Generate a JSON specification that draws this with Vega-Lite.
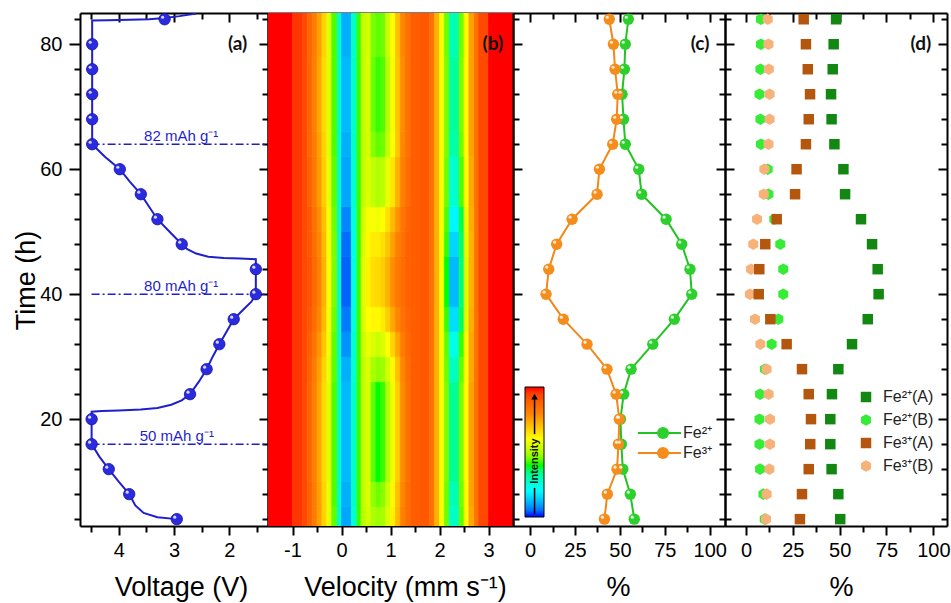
{
"$schema":"https://vega.github.io/schema/vega-lite/v6.json",
"autosize":{"type":"pad"},
"padding":{"left":12,"top":11,"right":2,"bottom":2},
"background":"white",
"spacing":0,
"bounds":"flush",
"resolve":{"scale":{"color":"independent","shape":"independent","stroke":"independent"},"legend":{"color":"independent","shape":"independent","stroke":"independent"}},
"config":{"font":"Liberation Sans","view":{"stroke":null},
 "axis":{"domainColor":"#000","domainWidth":2,"tickColor":"#000","tickWidth":2,"labelColor":"#000","labelFontSize":20,"labelFont":"Liberation Sans","titleFont":"Liberation Sans","titleFontSize":27,"titleFontWeight":"normal","titleColor":"#000","grid":false,"zindex":1}},
"datasets":{
"aline":[{"v":2.95,"t":4.0},{"v":3.3,"t":4.3},{"v":3.55,"t":5.0},{"v":3.7,"t":6.2},{"v":3.81,"t":8.0},{"v":4.0,"t":10.0},{"v":4.18,"t":12.0},{"v":4.35,"t":14.0},{"v":4.49,"t":16.0},{"v":4.49,"t":21.2},{"v":4.3,"t":21.3},{"v":4.0,"t":21.4},{"v":3.6,"t":21.55},{"v":3.3,"t":21.8},{"v":3.05,"t":22.3},{"v":2.86,"t":23.0},{"v":2.71,"t":24.0},{"v":2.55,"t":26.0},{"v":2.41,"t":28.0},{"v":2.3,"t":30.0},{"v":2.18,"t":32.0},{"v":2.05,"t":34.0},{"v":1.92,"t":36.0},{"v":1.74,"t":37.6},{"v":1.6,"t":38.8},{"v":1.52,"t":40.0},{"v":1.52,"t":45.6},{"v":1.8,"t":45.7},{"v":2.1,"t":45.8},{"v":2.38,"t":46.0},{"v":2.6,"t":46.5},{"v":2.76,"t":47.2},{"v":2.86,"t":48.0},{"v":3.08,"t":50.0},{"v":3.3,"t":52.0},{"v":3.45,"t":54.0},{"v":3.6,"t":56.0},{"v":3.8,"t":58.0},{"v":3.98,"t":60.0},{"v":4.25,"t":62.0},{"v":4.48,"t":64.0},{"v":4.48,"t":83.8},{"v":4.2,"t":83.85},{"v":3.8,"t":83.9},{"v":3.45,"t":84.0},{"v":3.17,"t":84.2},{"v":2.9,"t":84.5},{"v":2.6,"t":84.9}],
"apts":[{"t":4,"v":2.95},{"t":8,"v":3.81},{"t":12,"v":4.18},{"t":16,"v":4.49},{"t":20,"v":4.49},{"t":24,"v":2.71},{"t":28,"v":2.41},{"t":32,"v":2.18},{"t":36,"v":1.92},{"t":40,"v":1.52},{"t":44,"v":1.52},{"t":48,"v":2.86},{"t":52,"v":3.3},{"t":56,"v":3.6},{"t":60,"v":3.98},{"t":64,"v":4.48},{"t":68,"v":4.48},{"t":72,"v":4.48},{"t":76,"v":4.48},{"t":80,"v":4.48},{"t":84,"v":3.17}],
"arule":[{"t":16,"v1":4.49,"v2":1.3,"lv":2.95,"s":"50 mAh g⁻¹"},{"t":40,"v1":4.49,"v2":1.3,"lv":2.87,"s":"80 mAh g⁻¹"},{"t":64,"v1":4.49,"v2":1.3,"lv":2.87,"s":"82 mAh g⁻¹"}],
"heat":[
{"a":-1.5,"b":-1.0,"s":2.9,"e":85,"z":1.0},{"a":-1.0,"b":-0.8,"s":2.9,"e":85,"z":0.96},{"a":-0.8,"b":-0.7,"s":2.9,"e":85,"z":0.93},{"a":-0.1,"b":0.0,"s":2.9,"e":85,"z":0.28},{"a":0.3,"b":0.4,"s":2.9,"e":85,"z":0.41},{"a":1.4,"b":1.6,"s":2.9,"e":85,"z":0.89},{"a":1.6,"b":1.8,"s":2.9,"e":85,"z":0.9},{"a":1.8,"b":1.9,"s":2.9,"e":85,"z":0.84},{"a":1.9,"b":2.0,"s":2.9,"e":85,"z":0.72},{"a":2.0,"b":2.1,"s":2.9,"e":85,"z":0.59},{"a":2.7,"b":2.8,"s":2.9,"e":85,"z":0.84},{"a":2.8,"b":3.0,"s":2.9,"e":85,"z":0.93},{"a":3.0,"b":3.5,"s":2.9,"e":85,"z":1.0},
{"a":-0.7,"b":-0.6,"s":2.9,"e":6,"z":0.88},{"a":-0.6,"b":-0.5,"s":2.9,"e":6,"z":0.81},{"a":-0.5,"b":-0.4,"s":2.9,"e":6,"z":0.75},{"a":-0.4,"b":-0.3,"s":2.9,"e":6,"z":0.67},{"a":-0.3,"b":-0.2,"s":2.9,"e":6,"z":0.57},{"a":-0.2,"b":-0.1,"s":2.9,"e":6,"z":0.43},{"a":0.0,"b":0.2,"s":2.9,"e":6,"z":0.10},{"a":0.2,"b":0.3,"s":2.9,"e":6,"z":0.27},{"a":0.4,"b":0.5,"s":2.9,"e":6,"z":0.51},{"a":0.5,"b":0.6,"s":2.9,"e":6,"z":0.54},{"a":0.6,"b":0.7,"s":2.9,"e":6,"z":0.50},{"a":0.7,"b":0.8,"s":2.9,"e":6,"z":0.48},{"a":0.8,"b":0.9,"s":2.9,"e":6,"z":0.49},{"a":0.9,"b":1.0,"s":2.9,"e":6,"z":0.55},{"a":1.0,"b":1.1,"s":2.9,"e":6,"z":0.62},{"a":1.1,"b":1.2,"s":2.9,"e":6,"z":0.71},{"a":1.2,"b":1.3,"s":2.9,"e":6,"z":0.80},{"a":1.3,"b":1.4,"s":2.9,"e":6,"z":0.85},{"a":2.1,"b":2.2,"s":2.9,"e":6,"z":0.44},{"a":2.2,"b":2.4,"s":2.9,"e":6,"z":0.28},{"a":2.4,"b":2.5,"s":2.9,"e":6,"z":0.43},{"a":2.5,"b":2.6,"s":2.9,"e":6,"z":0.59},{"a":2.6,"b":2.7,"s":2.9,"e":6,"z":0.74},
{"a":-0.7,"b":-0.6,"s":6,"e":10,"z":0.88},{"a":-0.6,"b":-0.5,"s":6,"e":10,"z":0.81},{"a":-0.5,"b":-0.4,"s":6,"e":10,"z":0.75},{"a":-0.4,"b":-0.3,"s":6,"e":10,"z":0.67},{"a":-0.3,"b":-0.2,"s":6,"e":10,"z":0.57},{"a":-0.2,"b":-0.1,"s":6,"e":10,"z":0.42},{"a":0.0,"b":0.2,"s":6,"e":10,"z":0.11},{"a":0.2,"b":0.3,"s":6,"e":10,"z":0.28},{"a":0.4,"b":0.5,"s":6,"e":10,"z":0.52},{"a":0.5,"b":0.6,"s":6,"e":10,"z":0.55},{"a":0.6,"b":0.7,"s":6,"e":10,"z":0.47},{"a":0.7,"b":0.8,"s":6,"e":10,"z":0.44},{"a":0.8,"b":0.9,"s":6,"e":10,"z":0.46},{"a":0.9,"b":1.0,"s":6,"e":10,"z":0.53},{"a":1.0,"b":1.1,"s":6,"e":10,"z":0.61},{"a":1.1,"b":1.2,"s":6,"e":10,"z":0.70},{"a":1.2,"b":1.3,"s":6,"e":10,"z":0.79},{"a":1.3,"b":1.4,"s":6,"e":10,"z":0.85},{"a":2.1,"b":2.2,"s":6,"e":10,"z":0.44},{"a":2.2,"b":2.4,"s":6,"e":10,"z":0.30},{"a":2.4,"b":2.5,"s":6,"e":10,"z":0.44},{"a":2.5,"b":2.6,"s":6,"e":10,"z":0.59},{"a":2.6,"b":2.7,"s":6,"e":10,"z":0.75},
{"a":-0.7,"b":-0.6,"s":10,"e":26,"z":0.87},{"a":-0.6,"b":-0.5,"s":10,"e":26,"z":0.80},{"a":-0.5,"b":-0.4,"s":10,"e":26,"z":0.74},{"a":-0.4,"b":-0.3,"s":10,"e":26,"z":0.66},{"a":-0.3,"b":-0.2,"s":10,"e":26,"z":0.56},{"a":-0.2,"b":-0.1,"s":10,"e":26,"z":0.42},{"a":0.0,"b":0.2,"s":10,"e":26,"z":0.12},{"a":0.2,"b":0.3,"s":10,"e":26,"z":0.28},{"a":0.4,"b":0.5,"s":10,"e":26,"z":0.52},{"a":0.5,"b":0.6,"s":10,"e":26,"z":0.55},{"a":0.6,"b":0.7,"s":10,"e":26,"z":0.43},{"a":0.7,"b":0.8,"s":10,"e":26,"z":0.40},{"a":0.8,"b":0.9,"s":10,"e":26,"z":0.41},{"a":0.9,"b":1.0,"s":10,"e":26,"z":0.50},{"a":1.0,"b":1.1,"s":10,"e":26,"z":0.58},{"a":1.1,"b":1.2,"s":10,"e":26,"z":0.68},{"a":1.2,"b":1.3,"s":10,"e":26,"z":0.78},{"a":1.3,"b":1.4,"s":10,"e":26,"z":0.84},{"a":2.1,"b":2.2,"s":10,"e":26,"z":0.45},{"a":2.2,"b":2.4,"s":10,"e":26,"z":0.33},{"a":2.4,"b":2.5,"s":10,"e":26,"z":0.45},{"a":2.5,"b":2.6,"s":10,"e":26,"z":0.60},{"a":2.6,"b":2.7,"s":10,"e":26,"z":0.75},
{"a":-0.7,"b":-0.6,"s":26,"e":30,"z":0.88},{"a":-0.6,"b":-0.5,"s":26,"e":30,"z":0.81},{"a":-0.5,"b":-0.4,"s":26,"e":30,"z":0.75},{"a":-0.4,"b":-0.3,"s":26,"e":30,"z":0.67},{"a":-0.3,"b":-0.2,"s":26,"e":30,"z":0.57},{"a":-0.2,"b":-0.1,"s":26,"e":30,"z":0.43},{"a":0.0,"b":0.2,"s":26,"e":30,"z":0.11},{"a":0.2,"b":0.3,"s":26,"e":30,"z":0.27},{"a":0.4,"b":0.5,"s":26,"e":30,"z":0.52},{"a":0.5,"b":0.6,"s":26,"e":30,"z":0.55},{"a":0.6,"b":0.7,"s":26,"e":30,"z":0.49},{"a":0.7,"b":0.8,"s":26,"e":30,"z":0.47},{"a":0.8,"b":0.9,"s":26,"e":30,"z":0.48},{"a":0.9,"b":1.0,"s":26,"e":30,"z":0.54},{"a":1.0,"b":1.1,"s":26,"e":30,"z":0.61},{"a":1.1,"b":1.2,"s":26,"e":30,"z":0.70},{"a":1.2,"b":1.3,"s":26,"e":30,"z":0.79},{"a":1.3,"b":1.4,"s":26,"e":30,"z":0.85},{"a":2.1,"b":2.2,"s":26,"e":30,"z":0.44},{"a":2.2,"b":2.4,"s":26,"e":30,"z":0.29},{"a":2.4,"b":2.5,"s":26,"e":30,"z":0.43},{"a":2.5,"b":2.6,"s":26,"e":30,"z":0.59},{"a":2.6,"b":2.7,"s":26,"e":30,"z":0.74},
{"a":-0.7,"b":-0.6,"s":30,"e":34,"z":0.89},{"a":-0.6,"b":-0.5,"s":30,"e":34,"z":0.83},{"a":-0.5,"b":-0.4,"s":30,"e":34,"z":0.77},{"a":-0.4,"b":-0.3,"s":30,"e":34,"z":0.69},{"a":-0.3,"b":-0.2,"s":30,"e":34,"z":0.58},{"a":-0.2,"b":-0.1,"s":30,"e":34,"z":0.43},{"a":0.0,"b":0.2,"s":30,"e":34,"z":0.08},{"a":0.2,"b":0.3,"s":30,"e":34,"z":0.27},{"a":0.4,"b":0.5,"s":30,"e":34,"z":0.53},{"a":0.5,"b":0.6,"s":30,"e":34,"z":0.57},{"a":0.6,"b":0.7,"s":30,"e":34,"z":0.55},{"a":0.7,"b":0.8,"s":30,"e":34,"z":0.53},{"a":0.8,"b":0.9,"s":30,"e":34,"z":0.55},{"a":0.9,"b":1.0,"s":30,"e":34,"z":0.60},{"a":1.0,"b":1.1,"s":30,"e":34,"z":0.67},{"a":1.1,"b":1.2,"s":30,"e":34,"z":0.74},{"a":1.2,"b":1.3,"s":30,"e":34,"z":0.81},{"a":1.3,"b":1.4,"s":30,"e":34,"z":0.86},{"a":2.1,"b":2.2,"s":30,"e":34,"z":0.43},{"a":2.2,"b":2.4,"s":30,"e":34,"z":0.24},{"a":2.4,"b":2.5,"s":30,"e":34,"z":0.41},{"a":2.5,"b":2.6,"s":30,"e":34,"z":0.58},{"a":2.6,"b":2.7,"s":30,"e":34,"z":0.74},
{"a":-0.7,"b":-0.6,"s":34,"e":38,"z":0.90},{"a":-0.6,"b":-0.5,"s":34,"e":38,"z":0.85},{"a":-0.5,"b":-0.4,"s":34,"e":38,"z":0.79},{"a":-0.4,"b":-0.3,"s":34,"e":38,"z":0.71},{"a":-0.3,"b":-0.2,"s":34,"e":38,"z":0.59},{"a":-0.2,"b":-0.1,"s":34,"e":38,"z":0.44},{"a":0.0,"b":0.2,"s":34,"e":38,"z":0.06},{"a":0.2,"b":0.3,"s":34,"e":38,"z":0.26},{"a":0.4,"b":0.5,"s":34,"e":38,"z":0.55},{"a":0.5,"b":0.6,"s":34,"e":38,"z":0.60},{"a":0.6,"b":0.7,"s":34,"e":38,"z":0.61},{"a":0.7,"b":0.8,"s":34,"e":38,"z":0.61},{"a":0.8,"b":0.9,"s":34,"e":38,"z":0.63},{"a":0.9,"b":1.0,"s":34,"e":38,"z":0.68},{"a":1.0,"b":1.1,"s":34,"e":38,"z":0.74},{"a":1.1,"b":1.2,"s":34,"e":38,"z":0.79},{"a":1.2,"b":1.3,"s":34,"e":38,"z":0.84},{"a":1.3,"b":1.4,"s":34,"e":38,"z":0.87},{"a":2.1,"b":2.2,"s":34,"e":38,"z":0.41},{"a":2.2,"b":2.4,"s":34,"e":38,"z":0.16},{"a":2.4,"b":2.5,"s":34,"e":38,"z":0.37},{"a":2.5,"b":2.6,"s":34,"e":38,"z":0.56},{"a":2.6,"b":2.7,"s":34,"e":38,"z":0.73},
{"a":-0.7,"b":-0.6,"s":38,"e":46,"z":0.91},{"a":-0.6,"b":-0.5,"s":38,"e":46,"z":0.86},{"a":-0.5,"b":-0.4,"s":38,"e":46,"z":0.80},{"a":-0.4,"b":-0.3,"s":38,"e":46,"z":0.72},{"a":-0.3,"b":-0.2,"s":38,"e":46,"z":0.60},{"a":-0.2,"b":-0.1,"s":38,"e":46,"z":0.45},{"a":0.0,"b":0.2,"s":38,"e":46,"z":0.04},{"a":0.2,"b":0.3,"s":38,"e":46,"z":0.25},{"a":0.4,"b":0.5,"s":38,"e":46,"z":0.56},{"a":0.5,"b":0.6,"s":38,"e":46,"z":0.62},{"a":0.6,"b":0.7,"s":38,"e":46,"z":0.65},{"a":0.7,"b":0.8,"s":38,"e":46,"z":0.66},{"a":0.8,"b":0.9,"s":38,"e":46,"z":0.68},{"a":0.9,"b":1.0,"s":38,"e":46,"z":0.72},{"a":1.0,"b":1.1,"s":38,"e":46,"z":0.78},{"a":1.1,"b":1.2,"s":38,"e":46,"z":0.82},{"a":1.2,"b":1.3,"s":38,"e":46,"z":0.85},{"a":1.3,"b":1.4,"s":38,"e":46,"z":0.88},{"a":2.1,"b":2.2,"s":38,"e":46,"z":0.40},{"a":2.2,"b":2.4,"s":38,"e":46,"z":0.12},{"a":2.4,"b":2.5,"s":38,"e":46,"z":0.35},{"a":2.5,"b":2.6,"s":38,"e":46,"z":0.55},{"a":2.6,"b":2.7,"s":38,"e":46,"z":0.72},
{"a":-0.7,"b":-0.6,"s":46,"e":50,"z":0.90},{"a":-0.6,"b":-0.5,"s":46,"e":50,"z":0.85},{"a":-0.5,"b":-0.4,"s":46,"e":50,"z":0.79},{"a":-0.4,"b":-0.3,"s":46,"e":50,"z":0.71},{"a":-0.3,"b":-0.2,"s":46,"e":50,"z":0.59},{"a":-0.2,"b":-0.1,"s":46,"e":50,"z":0.45},{"a":0.0,"b":0.2,"s":46,"e":50,"z":0.05},{"a":0.2,"b":0.3,"s":46,"e":50,"z":0.25},{"a":0.4,"b":0.5,"s":46,"e":50,"z":0.55},{"a":0.5,"b":0.6,"s":46,"e":50,"z":0.61},{"a":0.6,"b":0.7,"s":46,"e":50,"z":0.63},{"a":0.7,"b":0.8,"s":46,"e":50,"z":0.63},{"a":0.8,"b":0.9,"s":46,"e":50,"z":0.65},{"a":0.9,"b":1.0,"s":46,"e":50,"z":0.69},{"a":1.0,"b":1.1,"s":46,"e":50,"z":0.75},{"a":1.1,"b":1.2,"s":46,"e":50,"z":0.80},{"a":1.2,"b":1.3,"s":46,"e":50,"z":0.84},{"a":1.3,"b":1.4,"s":46,"e":50,"z":0.88},{"a":2.1,"b":2.2,"s":46,"e":50,"z":0.41},{"a":2.2,"b":2.4,"s":46,"e":50,"z":0.15},{"a":2.4,"b":2.5,"s":46,"e":50,"z":0.36},{"a":2.5,"b":2.6,"s":46,"e":50,"z":0.56},{"a":2.6,"b":2.7,"s":46,"e":50,"z":0.72},
{"a":-0.7,"b":-0.6,"s":50,"e":54,"z":0.90},{"a":-0.6,"b":-0.5,"s":50,"e":54,"z":0.84},{"a":-0.5,"b":-0.4,"s":50,"e":54,"z":0.78},{"a":-0.4,"b":-0.3,"s":50,"e":54,"z":0.70},{"a":-0.3,"b":-0.2,"s":50,"e":54,"z":0.59},{"a":-0.2,"b":-0.1,"s":50,"e":54,"z":0.44},{"a":0.0,"b":0.2,"s":50,"e":54,"z":0.07},{"a":0.2,"b":0.3,"s":50,"e":54,"z":0.26},{"a":0.4,"b":0.5,"s":50,"e":54,"z":0.54},{"a":0.5,"b":0.6,"s":50,"e":54,"z":0.59},{"a":0.6,"b":0.7,"s":50,"e":54,"z":0.59},{"a":0.7,"b":0.8,"s":50,"e":54,"z":0.58},{"a":0.8,"b":0.9,"s":50,"e":54,"z":0.60},{"a":0.9,"b":1.0,"s":50,"e":54,"z":0.65},{"a":1.0,"b":1.1,"s":50,"e":54,"z":0.71},{"a":1.1,"b":1.2,"s":50,"e":54,"z":0.77},{"a":1.2,"b":1.3,"s":50,"e":54,"z":0.83},{"a":1.3,"b":1.4,"s":50,"e":54,"z":0.87},{"a":2.1,"b":2.2,"s":50,"e":54,"z":0.42},{"a":2.2,"b":2.4,"s":50,"e":54,"z":0.19},{"a":2.4,"b":2.5,"s":50,"e":54,"z":0.38},{"a":2.5,"b":2.6,"s":50,"e":54,"z":0.57},{"a":2.6,"b":2.7,"s":50,"e":54,"z":0.73},
{"a":-0.7,"b":-0.6,"s":54,"e":62,"z":0.88},{"a":-0.6,"b":-0.5,"s":54,"e":62,"z":0.82},{"a":-0.5,"b":-0.4,"s":54,"e":62,"z":0.76},{"a":-0.4,"b":-0.3,"s":54,"e":62,"z":0.68},{"a":-0.3,"b":-0.2,"s":54,"e":62,"z":0.57},{"a":-0.2,"b":-0.1,"s":54,"e":62,"z":0.43},{"a":0.0,"b":0.2,"s":54,"e":62,"z":0.10},{"a":0.2,"b":0.3,"s":54,"e":62,"z":0.27},{"a":0.4,"b":0.5,"s":54,"e":62,"z":0.52},{"a":0.5,"b":0.6,"s":54,"e":62,"z":0.55},{"a":0.6,"b":0.7,"s":54,"e":62,"z":0.52},{"a":0.7,"b":0.8,"s":54,"e":62,"z":0.50},{"a":0.8,"b":0.9,"s":54,"e":62,"z":0.51},{"a":0.9,"b":1.0,"s":54,"e":62,"z":0.57},{"a":1.0,"b":1.1,"s":54,"e":62,"z":0.64},{"a":1.1,"b":1.2,"s":54,"e":62,"z":0.72},{"a":1.2,"b":1.3,"s":54,"e":62,"z":0.80},{"a":1.3,"b":1.4,"s":54,"e":62,"z":0.85},{"a":2.1,"b":2.2,"s":54,"e":62,"z":0.44},{"a":2.2,"b":2.4,"s":54,"e":62,"z":0.27},{"a":2.4,"b":2.5,"s":54,"e":62,"z":0.42},{"a":2.5,"b":2.6,"s":54,"e":62,"z":0.59},{"a":2.6,"b":2.7,"s":54,"e":62,"z":0.74},
{"a":-0.7,"b":-0.6,"s":62,"e":66,"z":0.87},{"a":-0.6,"b":-0.5,"s":62,"e":66,"z":0.81},{"a":-0.5,"b":-0.4,"s":62,"e":66,"z":0.75},{"a":-0.4,"b":-0.3,"s":62,"e":66,"z":0.67},{"a":-0.3,"b":-0.2,"s":62,"e":66,"z":0.56},{"a":-0.2,"b":-0.1,"s":62,"e":66,"z":0.42},{"a":0.0,"b":0.2,"s":62,"e":66,"z":0.11},{"a":0.2,"b":0.3,"s":62,"e":66,"z":0.28},{"a":0.4,"b":0.5,"s":62,"e":66,"z":0.52},{"a":0.5,"b":0.6,"s":62,"e":66,"z":0.54},{"a":0.6,"b":0.7,"s":62,"e":66,"z":0.46},{"a":0.7,"b":0.8,"s":62,"e":66,"z":0.43},{"a":0.8,"b":0.9,"s":62,"e":66,"z":0.44},{"a":0.9,"b":1.0,"s":62,"e":66,"z":0.52},{"a":1.0,"b":1.1,"s":62,"e":66,"z":0.60},{"a":1.1,"b":1.2,"s":62,"e":66,"z":0.69},{"a":1.2,"b":1.3,"s":62,"e":66,"z":0.79},{"a":1.3,"b":1.4,"s":62,"e":66,"z":0.84},{"a":2.1,"b":2.2,"s":62,"e":66,"z":0.45},{"a":2.2,"b":2.4,"s":62,"e":66,"z":0.31},{"a":2.4,"b":2.5,"s":62,"e":66,"z":0.44},{"a":2.5,"b":2.6,"s":62,"e":66,"z":0.60},{"a":2.6,"b":2.7,"s":62,"e":66,"z":0.75},
{"a":-0.7,"b":-0.6,"s":66,"e":78,"z":0.87},{"a":-0.6,"b":-0.5,"s":66,"e":78,"z":0.80},{"a":-0.5,"b":-0.4,"s":66,"e":78,"z":0.74},{"a":-0.4,"b":-0.3,"s":66,"e":78,"z":0.66},{"a":-0.3,"b":-0.2,"s":66,"e":78,"z":0.56},{"a":-0.2,"b":-0.1,"s":66,"e":78,"z":0.42},{"a":0.0,"b":0.2,"s":66,"e":78,"z":0.12},{"a":0.2,"b":0.3,"s":66,"e":78,"z":0.28},{"a":0.4,"b":0.5,"s":66,"e":78,"z":0.52},{"a":0.5,"b":0.6,"s":66,"e":78,"z":0.55},{"a":0.6,"b":0.7,"s":66,"e":78,"z":0.44},{"a":0.7,"b":0.8,"s":66,"e":78,"z":0.41},{"a":0.8,"b":0.9,"s":66,"e":78,"z":0.42},{"a":0.9,"b":1.0,"s":66,"e":78,"z":0.51},{"a":1.0,"b":1.1,"s":66,"e":78,"z":0.59},{"a":1.1,"b":1.2,"s":66,"e":78,"z":0.69},{"a":1.2,"b":1.3,"s":66,"e":78,"z":0.78},{"a":1.3,"b":1.4,"s":66,"e":78,"z":0.84},{"a":2.1,"b":2.2,"s":66,"e":78,"z":0.45},{"a":2.2,"b":2.4,"s":66,"e":78,"z":0.32},{"a":2.4,"b":2.5,"s":66,"e":78,"z":0.45},{"a":2.5,"b":2.6,"s":66,"e":78,"z":0.60},{"a":2.6,"b":2.7,"s":66,"e":78,"z":0.75},
{"a":-0.7,"b":-0.6,"s":78,"e":85,"z":0.87},{"a":-0.6,"b":-0.5,"s":78,"e":85,"z":0.81},{"a":-0.5,"b":-0.4,"s":78,"e":85,"z":0.75},{"a":-0.4,"b":-0.3,"s":78,"e":85,"z":0.67},{"a":-0.3,"b":-0.2,"s":78,"e":85,"z":0.56},{"a":-0.2,"b":-0.1,"s":78,"e":85,"z":0.42},{"a":0.0,"b":0.2,"s":78,"e":85,"z":0.11},{"a":0.2,"b":0.3,"s":78,"e":85,"z":0.28},{"a":0.4,"b":0.5,"s":78,"e":85,"z":0.52},{"a":0.5,"b":0.6,"s":78,"e":85,"z":0.54},{"a":0.6,"b":0.7,"s":78,"e":85,"z":0.45},{"a":0.7,"b":0.8,"s":78,"e":85,"z":0.43},{"a":0.8,"b":0.9,"s":78,"e":85,"z":0.44},{"a":0.9,"b":1.0,"s":78,"e":85,"z":0.53},{"a":1.0,"b":1.1,"s":78,"e":85,"z":0.60},{"a":1.1,"b":1.2,"s":78,"e":85,"z":0.70},{"a":1.2,"b":1.3,"s":78,"e":85,"z":0.79},{"a":1.3,"b":1.4,"s":78,"e":85,"z":0.84},{"a":2.1,"b":2.2,"s":78,"e":85,"z":0.44},{"a":2.2,"b":2.4,"s":78,"e":85,"z":0.30},{"a":2.4,"b":2.5,"s":78,"e":85,"z":0.44},{"a":2.5,"b":2.6,"s":78,"e":85,"z":0.59},{"a":2.6,"b":2.7,"s":78,"e":85,"z":0.75}
],
"cpts":[{"t":4,"s":"Fe²⁺","p":58.0},{"t":8,"s":"Fe²⁺","p":55.8},{"t":12,"s":"Fe²⁺","p":51.6},{"t":16,"s":"Fe²⁺","p":50.8},{"t":20,"s":"Fe²⁺","p":50.3},{"t":24,"s":"Fe²⁺","p":52.1},{"t":28,"s":"Fe²⁺","p":56.2},{"t":32,"s":"Fe²⁺","p":68.3},{"t":36,"s":"Fe²⁺","p":80.3},{"t":40,"s":"Fe²⁺","p":90.0},{"t":44,"s":"Fe²⁺","p":89.0},{"t":48,"s":"Fe²⁺","p":84.4},{"t":52,"s":"Fe²⁺","p":75.7},{"t":56,"s":"Fe²⁺","p":62.1},{"t":60,"s":"Fe²⁺","p":60.5},{"t":64,"s":"Fe²⁺","p":53.0},{"t":68,"s":"Fe²⁺","p":52.0},{"t":72,"s":"Fe²⁺","p":51.2},{"t":76,"s":"Fe²⁺","p":52.5},{"t":80,"s":"Fe²⁺","p":53.0},{"t":84,"s":"Fe²⁺","p":54.7},
{"t":4,"s":"Fe³⁺","p":41.4},{"t":8,"s":"Fe³⁺","p":43.0},{"t":12,"s":"Fe³⁺","p":48.4},{"t":16,"s":"Fe³⁺","p":49.2},{"t":20,"s":"Fe³⁺","p":49.7},{"t":24,"s":"Fe³⁺","p":47.9},{"t":28,"s":"Fe³⁺","p":42.8},{"t":32,"s":"Fe³⁺","p":31.7},{"t":36,"s":"Fe³⁺","p":18.5},{"t":40,"s":"Fe³⁺","p":8.9},{"t":44,"s":"Fe³⁺","p":10.4},{"t":48,"s":"Fe³⁺","p":14.8},{"t":52,"s":"Fe³⁺","p":23.4},{"t":56,"s":"Fe³⁺","p":37.3},{"t":60,"s":"Fe³⁺","p":38.6},{"t":64,"s":"Fe³⁺","p":46.0},{"t":68,"s":"Fe³⁺","p":48.2},{"t":72,"s":"Fe³⁺","p":48.8},{"t":76,"s":"Fe³⁺","p":47.3},{"t":80,"s":"Fe³⁺","p":46.4},{"t":84,"s":"Fe³⁺","p":44.1}],
"dpts":[{"t":4,"g":"Fe²⁺(B)","p":10.0},{"t":8,"g":"Fe²⁺(B)","p":9.3},{"t":12,"g":"Fe²⁺(B)","p":7.5},{"t":16,"g":"Fe²⁺(B)","p":7.2},{"t":20,"g":"Fe²⁺(B)","p":7.2},{"t":24,"g":"Fe²⁺(B)","p":7.5},{"t":28,"g":"Fe²⁺(B)","p":10.1},{"t":32,"g":"Fe²⁺(B)","p":13.7},{"t":36,"g":"Fe²⁺(B)","p":17.3},{"t":40,"g":"Fe²⁺(B)","p":19.9},{"t":44,"g":"Fe²⁺(B)","p":19.9},{"t":48,"g":"Fe²⁺(B)","p":18.3},{"t":52,"g":"Fe²⁺(B)","p":15.1},{"t":56,"g":"Fe²⁺(B)","p":12.0},{"t":60,"g":"Fe²⁺(B)","p":11.6},{"t":64,"g":"Fe²⁺(B)","p":8.0},{"t":68,"g":"Fe²⁺(B)","p":7.7},{"t":72,"g":"Fe²⁺(B)","p":7.2},{"t":76,"g":"Fe²⁺(B)","p":7.7},{"t":80,"g":"Fe²⁺(B)","p":8.0},{"t":84,"g":"Fe²⁺(B)","p":8.0},
{"t":4,"g":"Fe³⁺(B)","p":10.7},{"t":8,"g":"Fe³⁺(B)","p":11.0},{"t":12,"g":"Fe³⁺(B)","p":12.5},{"t":16,"g":"Fe³⁺(B)","p":12.8},{"t":20,"g":"Fe³⁺(B)","p":12.8},{"t":24,"g":"Fe³⁺(B)","p":12.1},{"t":28,"g":"Fe³⁺(B)","p":11.0},{"t":32,"g":"Fe³⁺(B)","p":7.7},{"t":36,"g":"Fe³⁺(B)","p":4.8},{"t":40,"g":"Fe³⁺(B)","p":2.1},{"t":44,"g":"Fe³⁺(B)","p":2.7},{"t":48,"g":"Fe³⁺(B)","p":3.9},{"t":52,"g":"Fe³⁺(B)","p":5.9},{"t":56,"g":"Fe³⁺(B)","p":9.5},{"t":60,"g":"Fe³⁺(B)","p":9.8},{"t":64,"g":"Fe³⁺(B)","p":12.0},{"t":68,"g":"Fe³⁺(B)","p":12.6},{"t":72,"g":"Fe³⁺(B)","p":12.6},{"t":76,"g":"Fe³⁺(B)","p":12.2},{"t":80,"g":"Fe³⁺(B)","p":12.0},{"t":84,"g":"Fe³⁺(B)","p":11.6},
{"t":4,"g":"Fe³⁺(A)","p":28.8},{"t":8,"g":"Fe³⁺(A)","p":29.9},{"t":12,"g":"Fe³⁺(A)","p":33.5},{"t":16,"g":"Fe³⁺(A)","p":34.3},{"t":20,"g":"Fe³⁺(A)","p":34.7},{"t":24,"g":"Fe³⁺(A)","p":33.5},{"t":28,"g":"Fe³⁺(A)","p":29.9},{"t":32,"g":"Fe³⁺(A)","p":21.7},{"t":36,"g":"Fe³⁺(A)","p":13.0},{"t":40,"g":"Fe³⁺(A)","p":6.8},{"t":44,"g":"Fe³⁺(A)","p":7.1},{"t":48,"g":"Fe³⁺(A)","p":10.3},{"t":52,"g":"Fe³⁺(A)","p":16.4},{"t":56,"g":"Fe³⁺(A)","p":26.2},{"t":60,"g":"Fe³⁺(A)","p":27.0},{"t":64,"g":"Fe³⁺(A)","p":32.0},{"t":68,"g":"Fe³⁺(A)","p":33.5},{"t":72,"g":"Fe³⁺(A)","p":34.2},{"t":76,"g":"Fe³⁺(A)","p":33.0},{"t":80,"g":"Fe³⁺(A)","p":32.0},{"t":84,"g":"Fe³⁺(A)","p":30.8},
{"t":4,"g":"Fe²⁺(A)","p":50.3},{"t":8,"g":"Fe²⁺(A)","p":49.3},{"t":12,"g":"Fe²⁺(A)","p":45.7},{"t":16,"g":"Fe²⁺(A)","p":45.0},{"t":20,"g":"Fe²⁺(A)","p":45.0},{"t":24,"g":"Fe²⁺(A)","p":45.9},{"t":28,"g":"Fe²⁺(A)","p":49.3},{"t":32,"g":"Fe²⁺(A)","p":56.6},{"t":36,"g":"Fe²⁺(A)","p":65.0},{"t":40,"g":"Fe²⁺(A)","p":70.8},{"t":44,"g":"Fe²⁺(A)","p":70.3},{"t":48,"g":"Fe²⁺(A)","p":67.3},{"t":52,"g":"Fe²⁺(A)","p":61.4},{"t":56,"g":"Fe²⁺(A)","p":52.9},{"t":60,"g":"Fe²⁺(A)","p":52.0},{"t":64,"g":"Fe²⁺(A)","p":47.2},{"t":68,"g":"Fe²⁺(A)","p":45.7},{"t":72,"g":"Fe²⁺(A)","p":45.4},{"t":76,"g":"Fe²⁺(A)","p":46.3},{"t":80,"g":"Fe²⁺(A)","p":46.8},{"t":84,"g":"Fe²⁺(A)","p":48.1}]
},
"hconcat":[
{"width":188,"height":513,
 "resolve":{"axis":{"x":"independent","y":"independent"}},
 "layer":[
  {"data":{"name":"aline"},"mark":{"type":"line","color":"#1f1fcc","strokeWidth":2,"clip":true},
   "encoding":{
    "x":{"field":"v","type":"quantitative","scale":{"domain":[1.3,4.7],"reverse":true,"nice":false,"zero":false},
     "axis":{"orient":"bottom","values":[4.5,4,3.5,3,2.5,2,1.5],"tickSize":{"condition":{"test":"datum.value % 1 === 0","value":9},"value":6},"labelExpr":"datum.value % 1 === 0 ? '' + datum.value : ''","labelPadding":5,"title":"Voltage (V)","titleX":101,"titleY":69,"titleBaseline":"alphabetic"}},
    "y":{"field":"t","type":"quantitative","scale":{"domain":[2.9,85],"nice":false,"zero":false},
     "axis":{"orient":"left","values":[4,8,12,16,20,24,28,32,36,40,44,48,52,56,60,64,68,72,76,80,84],"tickSize":{"condition":{"test":"datum.value % 20 === 0","value":11},"value":6},"labelExpr":"datum.value % 20 === 0 ? '' + datum.value : ''","labelPadding":7,"title":"Time (h)","titleX":-54,"titleY":267,"titleBaseline":"middle"}},
    "order":{"field":"t"}}},
  {"data":{"name":"arule"},"mark":{"type":"rule","color":"#1f1fcc","strokeWidth":1.5,"strokeDash":[8,3,2,3]},
   "encoding":{
    "x":{"field":"v1","type":"quantitative","axis":{"orient":"top","values":[4.5,4,3.5,3,2.5,2,1.5],"tickSize":{"condition":{"test":"datum.value % 1 === 0","value":-9},"value":-6},"labels":false,"title":null}},
    "x2":{"field":"v2"},
    "y":{"field":"t","type":"quantitative","axis":{"orient":"right","values":[4,8,12,16,20,24,28,32,36,40,44,48,52,56,60,64,68,72,76,80,84],"tickSize":{"condition":{"test":"datum.value % 20 === 0","value":-9},"value":-6},"labels":false,"title":null}}}},
  {"data":{"name":"arule"},"mark":{"type":"text","color":"#1f1fcc","fontSize":15,"baseline":"alphabetic","align":"center","dy":-3},
   "encoding":{"x":{"field":"lv","type":"quantitative","axis":null},"y":{"field":"t","type":"quantitative","axis":null},"text":{"field":"s"}}},
  {"data":{"name":"apts"},"mark":{"type":"point","filled":true,"size":130,"color":"#2a2ae0","stroke":"#14149a","strokeWidth":0.8,"opacity":1},
   "encoding":{"x":{"field":"v","type":"quantitative","axis":null},"y":{"field":"t","type":"quantitative","axis":null}}},
  {"data":{"name":"apts"},"mark":{"type":"point","filled":true,"size":10,"color":"white","opacity":0.8,"xOffset":-2,"yOffset":-2},
   "encoding":{"x":{"field":"v","type":"quantitative","axis":null},"y":{"field":"t","type":"quantitative","axis":null}}},
  {"data":{"values":[{"v":1.85,"t":80,"s":"(a)"}]},"mark":{"type":"text","font":"Lato","fontWeight":"bold","fontSize":19,"align":"center","baseline":"middle","color":"#111"},
   "encoding":{"x":{"field":"v","type":"quantitative","axis":null},"y":{"field":"t","type":"quantitative","axis":null},"text":{"field":"s"}}}
 ]},
{"width":245,"height":513,
 "resolve":{"axis":{"x":"independent","y":"independent"}},
 "layer":[
  {"data":{"name":"heat"},"mark":{"type":"rect","clip":true,"strokeWidth":0.7},
   "encoding":{
    "x":{"field":"a","type":"quantitative","scale":{"domain":[-1.5,3.5],"nice":false,"zero":false},
     "axis":{"orient":"bottom","values":[-1,-0.5,0,0.5,1,1.5,2,2.5,3],"tickSize":{"condition":{"test":"datum.value % 1 === 0","value":9},"value":6},"labelExpr":"datum.value % 1 === 0 ? '' + datum.value : ''","labelPadding":5,"title":"Velocity (mm s⁻¹)","titleX":137,"titleY":69,"titleBaseline":"alphabetic"}},
    "x2":{"field":"b"},
    "y":{"field":"s","type":"quantitative","scale":{"domain":[2.9,85],"nice":false,"zero":false},
     "axis":{"orient":"left","values":[4,8,12,16,20,24,28,32,36,40,44,48,52,56,60,64,68,72,76,80,84],"ticks":false,"labels":false,"title":null}},
    "y2":{"field":"e"},
    "color":{"field":"z","type":"quantitative","scale":{"domain":[0,0.2,0.4,0.6,0.8,1],"range":["#0000ff","#00ffff","#00ff00","#ffff00","#ff8000","#ff0000"]},
     "legend":{"type":"gradient","orient":"none","legendX":257,"legendY":374,"direction":"vertical","gradientLength":130,"gradientThickness":19,"labelExpr":"''","title":null,"padding":0,"gradientStrokeColor":"#000","gradientStrokeWidth":1}},
    "stroke":{"field":"z","type":"quantitative","scale":{"domain":[-0.0001,0.2,0.4,0.6,0.8,1.0001],"range":["#0000ff","#00ffff","#00ff00","#ffff00","#ff8000","#ff0000"]},"legend":null}}},
  {"data":{"values":[{"v":3.09,"t":80,"s":"(b)"}]},"mark":{"type":"text","font":"Lato","fontWeight":"bold","fontSize":19,"align":"center","baseline":"middle","color":"#111"},
   "encoding":{
    "x":{"field":"v","type":"quantitative","axis":{"orient":"top","values":[-1,-0.5,0,0.5,1,1.5,2,2.5,3],"tickSize":{"condition":{"test":"datum.value % 1 === 0","value":-9},"value":-6},"labels":false,"title":null}},
    "y":{"field":"t","type":"quantitative","axis":{"orient":"right","values":[4,8,12,16,20,24,28,32,36,40,44,48,52,56,60,64,68,72,76,80,84],"tickSize":{"condition":{"test":"datum.value % 20 === 0","value":-5},"value":-4},"labels":false,"title":null}},
    "text":{"field":"s"}}}
 ]},
{"width":212,"height":513,
 "resolve":{"axis":{"x":"independent","y":"independent"}},
 "layer":[
  {"data":{"name":"cpts"},"transform":[{"filter":"datum.s == 'Fe²⁺'"}],"mark":{"type":"line","strokeWidth":2,"clip":true,"color":"#22c322"},
   "encoding":{
    "x":{"field":"p","type":"quantitative","scale":{"domain":[-9.5,108.5],"nice":false,"zero":false},
     "axis":{"orient":"bottom","values":[0,12.5,25,37.5,50,62.5,75,87.5,100],"tickSize":{"condition":{"test":"datum.value % 25 === 0","value":9},"value":6},"labelExpr":"datum.value % 25 === 0 ? '' + datum.value : ''","labelPadding":5,"title":"%","titleX":105,"titleY":69,"titleBaseline":"alphabetic"}},
    "y":{"field":"t","type":"quantitative","scale":{"domain":[2.9,85],"nice":false,"zero":false},
     "axis":{"orient":"left","values":[4,8,12,16,20,24,28,32,36,40,44,48,52,56,60,64,68,72,76,80,84],"tickSize":{"condition":{"test":"datum.value % 20 === 0","value":-9},"value":-6},"labels":false,"title":null}},
    "order":{"field":"t"}}},
  {"data":{"name":"cpts"},"transform":[{"filter":"datum.s == 'Fe³⁺'"}],"mark":{"type":"line","strokeWidth":2,"clip":true,"color":"#f0881a"},
   "encoding":{
    "x":{"field":"p","type":"quantitative","axis":null},
    "y":{"field":"t","type":"quantitative","axis":null},
    "order":{"field":"t"}}},
  {"data":{"values":[{"x1":60,"x2":84,"t":17.8}]},"mark":{"type":"rule","strokeWidth":2,"color":"#22c322"},
   "encoding":{"x":{"field":"x1","type":"quantitative","axis":null},"x2":{"field":"x2"},"y":{"field":"t","type":"quantitative","axis":null}}},
  {"data":{"values":[{"x1":60,"x2":84,"t":14.6}]},"mark":{"type":"rule","strokeWidth":2,"color":"#f0881a"},
   "encoding":{"x":{"field":"x1","type":"quantitative","axis":null},"x2":{"field":"x2"},"y":{"field":"t","type":"quantitative","axis":null}}},
  {"data":{"name":"cpts"},"mark":{"type":"point","filled":true,"size":130,"opacity":1},
   "encoding":{
    "x":{"field":"p","type":"quantitative","axis":{"orient":"top","values":[0,12.5,25,37.5,50,62.5,75,87.5,100],"tickSize":{"condition":{"test":"datum.value % 25 === 0","value":-9},"value":-6},"labels":false,"title":null}},
    "y":{"field":"t","type":"quantitative","axis":{"orient":"right","values":[4,8,12,16,20,24,28,32,36,40,44,48,52,56,60,64,68,72,76,80,84],"tickSize":{"condition":{"test":"datum.value % 20 === 0","value":-9},"value":-6},"labels":false,"title":null}},
    "color":{"field":"s","type":"nominal","scale":{"domain":["Fe²⁺","Fe³⁺"],"range":["#2ccf2c","#f58d1d"]},
     "legend":{"orient":"none","legendX":142,"legendY":412,"title":null,"padding":0,"symbolSize":144,"labelFontSize":16,"labelOffset":12,"labelColor":"#222","rowPadding":4}}}},
  {"data":{"name":"cpts"},"mark":{"type":"point","filled":true,"size":10,"color":"white","opacity":0.8,"xOffset":-2,"yOffset":-2},
   "encoding":{"x":{"field":"p","type":"quantitative","axis":null},"y":{"field":"t","type":"quantitative","axis":null}}},
  {"data":{"values":[{"x":2.5,"t1":4.8,"t2":9.0},{"x":2.5,"t1":17.6,"t2":23.2}]},"mark":{"type":"rule","color":"#000","strokeWidth":1.5},
   "encoding":{"x":{"field":"x","type":"quantitative","axis":null},"y":{"field":"t1","type":"quantitative","axis":null},"y2":{"field":"t2"}}},
  {"data":{"values":[{"x":2.5,"t":23.6}]},"mark":{"type":"point","shape":"triangle-up","filled":true,"size":45,"color":"#000","opacity":1},
   "encoding":{"x":{"field":"x","type":"quantitative","axis":null},"y":{"field":"t","type":"quantitative","axis":null}}},
  {"data":{"values":[{"x":2.5,"t":13.3,"s":"Intensity"}]},"mark":{"type":"text","angle":270,"fontSize":11,"fontWeight":"bold","align":"center","baseline":"middle","color":"#111"},
   "encoding":{"x":{"field":"x","type":"quantitative","axis":null},"y":{"field":"t","type":"quantitative","axis":null},"text":{"field":"s"}}},
  {"data":{"values":[{"x":94.6,"t":80,"s":"(c)"}]},"mark":{"type":"text","font":"Lato","fontWeight":"bold","fontSize":19,"align":"center","baseline":"middle","color":"#111"},
   "encoding":{"x":{"field":"x","type":"quantitative","axis":null},"y":{"field":"t","type":"quantitative","axis":null},"text":{"field":"s"}}}
 ]},
{"width":222,"height":513,
 "resolve":{"axis":{"x":"independent","y":"independent"}},
 "layer":[
  {"data":{"name":"dpts"},"mark":{"type":"point","filled":true,"size":110,"opacity":1,"strokeWidth":0},
   "encoding":{
    "x":{"field":"p","type":"quantitative","scale":{"domain":[-11.2,107.3],"nice":false,"zero":false},
     "axis":{"orient":"bottom","values":[0,12.5,25,37.5,50,62.5,75,87.5,100],"tickSize":{"condition":{"test":"datum.value % 25 === 0","value":9},"value":6},"labelExpr":"datum.value % 25 === 0 ? '' + datum.value : ''","labelPadding":5,"title":"%","titleX":116,"titleY":69,"titleBaseline":"alphabetic"}},
    "y":{"field":"t","type":"quantitative","scale":{"domain":[2.9,85],"nice":false,"zero":false},
     "axis":{"orient":"left","values":[4,8,12,16,20,24,28,32,36,40,44,48,52,56,60,64,68,72,76,80,84],"tickSize":{"condition":{"test":"datum.value % 20 === 0","value":-9},"value":-6},"labels":false,"title":null}},
    "color":{"field":"g","type":"nominal","scale":{"domain":["Fe²⁺(A)","Fe²⁺(B)","Fe³⁺(A)","Fe³⁺(B)"],"range":["#128712","#36ec36","#b4560e","#f7b27a"]},
     "legend":{"orient":"none","legendX":133,"legendY":376,"title":null,"padding":0,"symbolSize":110,"labelFontSize":16,"labelOffset":9,"labelColor":"#222","rowPadding":7}},
    "shape":{"field":"g","type":"nominal","scale":{"domain":["Fe²⁺(A)","Fe²⁺(B)","Fe³⁺(A)","Fe³⁺(B)"],"range":["square","M0,-1.1L0.95,-0.55L0.95,0.55L0,1.1L-0.95,0.55L-0.95,-0.55Z","square","M0,-1.1L0.95,-0.55L0.95,0.55L0,1.1L-0.95,0.55L-0.95,-0.55Z"]},
     "legend":{"orient":"none","legendX":133,"legendY":376,"title":null,"padding":0,"symbolSize":110,"labelFontSize":16,"labelOffset":9,"labelColor":"#222","rowPadding":7}}}},
  {"data":{"values":[{"x":93.4,"t":80,"s":"(d)"}]},"mark":{"type":"text","font":"Lato","fontWeight":"bold","fontSize":19,"align":"center","baseline":"middle","color":"#111"},
   "encoding":{
    "x":{"field":"x","type":"quantitative","axis":{"orient":"top","values":[0,12.5,25,37.5,50,62.5,75,87.5,100],"tickSize":{"condition":{"test":"datum.value % 25 === 0","value":-9},"value":-6},"labels":false,"title":null}},
    "y":{"field":"t","type":"quantitative","axis":{"orient":"right","values":[4,8,12,16,20,24,28,32,36,40,44,48,52,56,60,64,68,72,76,80,84],"tickSize":{"condition":{"test":"datum.value % 20 === 0","value":-9},"value":-6},"labels":false,"title":null}},
    "text":{"field":"s"}}}
 ]}
]
}
